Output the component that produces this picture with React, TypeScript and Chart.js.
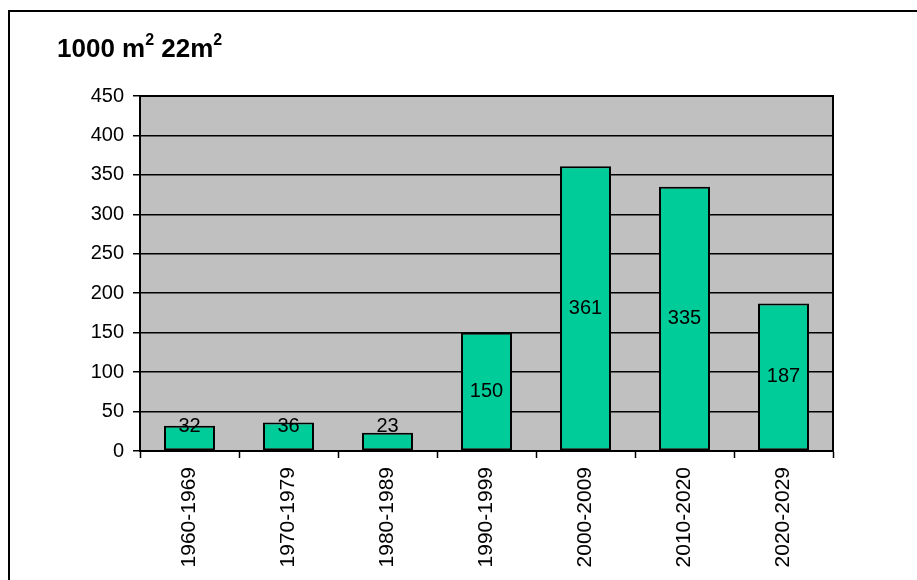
import React, { useEffect, useRef } from "react";
import { Chart, registerables } from "chart.js";

Chart.register(...registerables);

const categories = ["1960-1969", "1970-1979", "1980-1989", "1990-1999", "2000-2009", "2010-2020", "2020-2029"];
const values = [32, 36, 23, 150, 361, 335, 187];
const titleParts = [
  { text: "1000 m", sup: false },
  { text: "2", sup: true },
  { text: " 22m", sup: false },
  { text: "2", sup: true },
];
const yMin = 0;
const yMax = 450;
const yStep = 50;

const FONT = "'Liberation Sans', Arial, sans-serif";

const plotBgPlugin = {
  id: "plotBg",
  beforeDraw(chart: any) {
    const { ctx, chartArea } = chart;
    ctx.save();
    ctx.fillStyle = "#C0C0C0";
    ctx.fillRect(chartArea.left, chartArea.top, chartArea.right - chartArea.left, chartArea.bottom - chartArea.top);
    ctx.restore();
  },
  afterDraw(chart: any) {
    const { ctx, chartArea } = chart;
    ctx.save();
    ctx.strokeStyle = "#000";
    ctx.lineWidth = 2;
    ctx.beginPath();
    ctx.moveTo(chartArea.left, chartArea.top);
    ctx.lineTo(chartArea.right, chartArea.top);
    ctx.lineTo(chartArea.right, chartArea.bottom);
    ctx.stroke();
    ctx.restore();
  },
};

const labelPlugin = {
  id: "barLabels",
  afterDatasetsDraw(chart: any) {
    const { ctx } = chart;
    const meta = chart.getDatasetMeta(0);
    ctx.save();
    ctx.font = `20px ${FONT}`;
    ctx.fillStyle = "#000";
    ctx.textAlign = "center";
    ctx.textBaseline = "middle";
    meta.data.forEach((el: any, i: number) => {
      const center = (el.y + el.base) / 2;
      const y = Math.min(center, el.base - 24);
      ctx.fillText(String(values[i]), el.x, y);
    });
    ctx.restore();
  },
};

const titlePlugin = {
  id: "supTitle",
  afterDraw(chart: any) {
    const { ctx } = chart;
    ctx.save();
    ctx.fillStyle = "#000";
    ctx.textBaseline = "alphabetic";
    ctx.textAlign = "left";
    let x = 47;
    for (const p of titleParts) {
      ctx.font = p.sup ? `bold 16px ${FONT}` : `bold 26px ${FONT}`;
      ctx.fillText(p.text, x, p.sup ? 33 : 45);
      x += ctx.measureText(p.text).width;
    }
    ctx.restore();
  },
};

export default function App() {
  const ref = useRef<HTMLCanvasElement | null>(null);

  useEffect(() => {
    if (!ref.current) return;
    const chart = new Chart(ref.current, {
      type: "bar",
      data: {
        labels: categories,
        datasets: [
          {
            data: values,
            backgroundColor: "#00CC99",
            borderColor: "#000",
            borderWidth: 2,
            borderSkipped: false,
            categoryPercentage: 1,
            barPercentage: 0.515,
          },
        ],
      },
      options: {
        responsive: false,
        animation: false,
        events: [],
        layout: { padding: { left: 70, right: 77, top: 84, bottom: 9 } },
        plugins: {
          legend: { display: false },
          title: { display: false },
          tooltip: { enabled: false },
        },
        scales: {
          x: {
            afterFit: (s: any) => {
              s.height = 120;
            },
            grid: {
              offset: true,
              drawOnChartArea: false,
              drawTicks: true,
              tickLength: 7,
              tickColor: "#000",
              tickWidth: 1.5,
            },
            border: { display: true, color: "#000", width: 2 },
            ticks: {
              minRotation: 90,
              maxRotation: 90,
              autoSkip: false,
              padding: 9,
              color: "#000",
              font: { family: FONT, size: 21 },
            },
          },
          y: {
            min: yMin,
            max: yMax,
            afterFit: (s: any) => {
              s.width = 60;
            },
            grid: {
              color: "#000",
              lineWidth: 1.5,
              drawTicks: true,
              tickLength: 7,
              tickColor: "#000",
              tickWidth: 1.5,
            },
            border: { display: true, color: "#000", width: 2 },
            ticks: {
              stepSize: yStep,
              padding: 9,
              color: "#000",
              font: { family: FONT, size: 20 },
            },
          },
        },
      },
      plugins: [plotBgPlugin, labelPlugin, titlePlugin],
    } as any);
    return () => chart.destroy();
  }, []);

  return (
    <div
      style={{
        position: "fixed",
        left: 8,
        top: 10,
        borderLeft: "2px solid #000",
        borderTop: "2px solid #000",
        width: 920,
        height: 580,
        boxSizing: "content-box",
      }}
    >
      <canvas ref={ref} width={900} height={568} style={{ display: "block" }} />
    </div>
  );
}
